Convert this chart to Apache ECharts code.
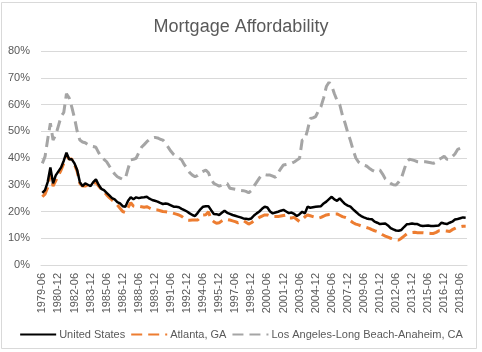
<!DOCTYPE html>
<html>
<head>
<meta charset="utf-8">
<script src="https://cdn.jsdelivr.net/npm/echarts@6/dist/echarts.min.js"></script>
<style>
html,body{margin:0;padding:0;background:#fff;}
#chart{width:482px;height:352px;}
</style>
</head>
<body>
<div id="chart"></div>
<script>
// Quarterly, starting 1979-06
const startYear = 1979, startMonthIdx = 1; // quarter index (0=03,1=06,2=09,3=12)
const nPoints = 159;
const monthNames = ['03','06','09','12'];
const categories = [];
for (let i = 0; i < nPoints; i++) {
  const q = startMonthIdx + i;
  categories.push((startYear + Math.floor(q / 4)) + '-' + monthNames[q % 4]);
}

const seriesNames = ['United States', 'Atlanta, GA', 'Los Angeles-Long Beach-Anaheim, CA'];

const usValues = [
27,28,31,36.5,30.5,33.5,35,36.5,39,42,
39.5,39.5,38,35.5,31,29.5,30.5,30,29.5,31,
32,30,28.5,28,27,26,25,24.5,23.5,23,
22,21.8,24,25.3,24.6,25.3,25,25.2,25.3,25.5,
24.8,24.3,24,23.7,23.2,22.8,23,22.8,22.3,21.8,
21.8,21.6,21,20.5,20,19.3,18.7,18.3,19.5,20.8,
21.8,22,22,20.5,19.1,19,18.7,19.5,20.3,19.5,
19.1,18.7,18.4,18.1,17.8,17.4,17.3,17.1,17.4,18.5,
19.3,20,21,21.8,21.5,20,19.3,19.6,19.9,20.3,
20.6,20,19.4,19.6,19.1,18.3,19,19.9,19.3,21.8,
21.4,21.6,21.8,21.9,22,23,23.7,24.6,25.5,24.5,
24,24.9,23.8,22.8,22.2,21.8,20.8,19.9,19,18.3,
17.8,17.4,17.2,17.1,16.2,15.8,15.3,15.4,15.5,14.8,
13.8,13.3,12.9,12.8,13.1,14.2,15.2,15.3,15.5,15.3,
15.3,14.8,14.6,14.7,14.8,14.6,14.6,14.7,14.8,15.8,
15.5,15.3,15.8,16.2,17,17.2,17.5,17.8,17.7
];

const atlantaValues = [
25.5,26.5,29,34,29.5,31.5,33.5,35.5,38,41,
39.6,39.6,37.5,35,30.5,29.5,29.5,30,30.3,30.5,
31,29.5,28.3,27.5,26.2,25.2,24.3,23.5,22.4,21.2,
20,19.6,21.5,23.3,22,21.8,22,21.8,21.6,21.8,
21.3,20.8,20.7,20.6,20.3,20,19.9,19.7,19.6,19.3,
19,18.7,18.2,17.4,16.8,16.7,16.8,16.8,16.8,17.8,
18.7,18.8,19.9,17,16.2,15.6,15.8,16.5,17.1,17,
16.8,16.5,16.2,15.8,16.2,16.6,16,15.3,15.8,16.5,
17.1,17.8,18.3,18.7,18.7,18.3,18.1,18.1,18.1,18.3,
18.5,18.7,17.6,17.6,17.8,17,16.2,17,18,18.7,
18.4,18.1,17.8,17.5,17.8,18.3,18.7,18.9,19,19.1,
19.1,18.6,18.1,17.8,17.4,16.5,15.8,15.3,15,14.6,
14.3,14,13.7,13.2,12.8,12.5,12,11.3,10.8,10.4,
10,9.7,9.4,9.3,10,10.8,11.6,11.9,12.1,12.2,
12.1,12.1,12.1,12,11.9,11.8,11.8,12.2,12.8,12.8,
12.8,12.7,12.5,13.2,13.7,14.2,14.3,14.5,14.5
];

const laValues = [
38,40.5,47,53,46.7,48.6,52,55.5,57,64,
62.5,59,55,50,46.7,46,45.7,45,44.5,44.3,
44,42,40.5,39.5,38.6,37,35.5,34,33,32.5,
32,32.4,36,39.3,39.5,39.9,42,44,45,46.1,
47,47.5,47.7,47.5,47,46.7,45.5,44,42.5,41.3,
40.5,40,39.3,37.5,36.1,34.5,33.6,33,33.5,34.5,
35,35.5,34.5,32,30.5,30,29.5,29.8,30.3,30.5,
28.7,28.5,28.3,28.1,27.9,27.8,27.5,27,27.8,29.5,
31,32.5,33.6,33.8,33.6,33.6,33.2,32.8,34.5,36,
37.4,37.6,37.8,38,38.5,39.2,39.9,46.7,47,50.5,
54.8,55,55.5,57.5,59.2,62.5,66.7,68.3,67,64,
61.5,60,56,53,49.5,46.5,43,40,38.5,37.8,
37.3,37,36.2,35.5,35,35.5,35.5,34,32.2,31.3,
30.5,30,29.9,31,32.4,35.5,38.6,39.5,39.3,39,
38.6,38.5,38.6,38.6,38.4,38.2,38,38.5,39.5,40,
40.7,39.5,39.5,40.5,41.5,43.2,43.6,44,44
];

const yMin = 0, yMax = 80, yStep = 10;

const textColor = '#595959';
const font = 'Liberation Sans';

const chart = echarts.init(document.getElementById('chart'), null, {renderer: 'canvas'});
chart.setOption({
  animation: false,
  backgroundColor: '#ffffff',
  title: {
    text: 'Mortgage Affordability',
    left: 'center',
    top: 13,
    textStyle: {fontFamily: font, fontSize: 18, fontWeight: 'normal', color: textColor}
  },
  graphic: [{
    type: 'rect',
    shape: {x: 1.5, y: 2.5, width: 475, height: 346},
    style: {fill: 'none', stroke: '#D9D9D9', lineWidth: 1},
    silent: true, z: -1
  }],
  legend: {
    bottom: 12,
    left: 'center',
    padding: 0,
    itemWidth: 36,
    itemHeight: 10,
    itemGap: 5,
    itemStyle: {opacity: 0},
    textStyle: {fontFamily: font, fontSize: 11, color: textColor, padding: [0, 0, 0, -2]},
    data: seriesNames
  },
  grid: {left: 41, right: 15, top: 51, bottom: 87, containLabel: false},
  xAxis: {
    type: 'category',
    data: categories,
    boundaryGap: true,
    axisLine: {show: true, lineStyle: {color: '#D9D9D9', width: 1}},
    axisTick: {show: false},
    axisLabel: {
      interval: 5,
      rotate: 90,
      margin: 8,
      fontFamily: font,
      fontSize: 11,
      color: textColor
    }
  },
  yAxis: {
    type: 'value',
    min: yMin, max: yMax, interval: yStep,
    axisLine: {show: false},
    axisTick: {show: false},
    splitLine: {lineStyle: {color: '#D9D9D9', width: 1}},
    axisLabel: {formatter: '{value}%', fontFamily: font, fontSize: 11, color: textColor, margin: 11}
  },
  series: [
    {
      name: seriesNames[0], type: 'line', data: usValues, symbol: 'none',
      lineStyle: {color: '#000000', width: 2.5},
      itemStyle: {color: '#000000'}, z: 4
    },
    {
      name: seriesNames[1], type: 'line', data: atlantaValues, symbol: 'none',
      lineStyle: {color: '#ED7D31', width: 3, type: [11, 6]},
      itemStyle: {color: '#ED7D31'}, z: 3
    },
    {
      name: seriesNames[2], type: 'line', data: laValues, symbol: 'none',
      lineStyle: {color: '#A5A5A5', width: 3, type: [11, 6]},
      itemStyle: {color: '#A5A5A5'}, z: 2
    }
  ]
});
</script>
</body>
</html>
